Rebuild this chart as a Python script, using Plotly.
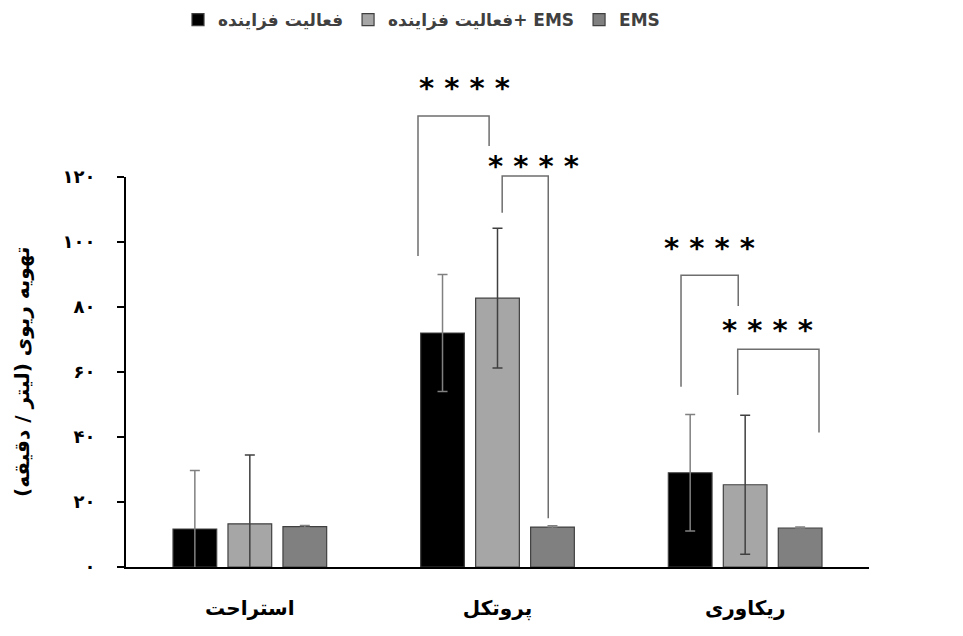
import plotly.graph_objects as go

# ---- data ----
categories = ["استراحت", "پروتکل", "ریکاوری"]
series_names = ["فعالیت فزاینده", "فعالیت فزاینده+ EMS", "EMS"]
vals_active = [11.7, 72.0, 29.0]
err_active = [18.0, 18.0, 17.9]
vals_active_ems = [13.3, 82.7, 25.3]
err_active_ems = [21.2, 21.5, 21.4]
vals_ems = [12.4, 12.3, 12.0]
err_ems = [0.4, 0.4, 0.3]
y_tickvals = [0, 20, 40, 60, 80, 100, 120]
y_ticktext = ["۰", "۲۰", "۴۰", "۶۰", "۸۰", "۱۰۰", "۱۲۰"]
y_title = "تهویه ریوی (لیتر / دقیقه)"
sig_label = "* * * *"

# significance brackets: (x_left, x_right, y_top, y_left_bottom, y_right_bottom) in data units
brackets = [
    (0.679, 0.966, 138.8, 95.7, 129.5),
    (1.019, 1.205, 120.3, 109.0, 15.0),
    (1.741, 1.972, 89.8, 55.5, 80.3),
    (1.970, 2.298, 67.0, 52.9, 41.4),
]
star_pos = [(0.865, 148.3), (1.147, 124.3), (1.858, 99.1), (2.092, 73.8)]

XMIN, XMAX = -0.5, 2.5
YMIN, YMAX = 0, 120

colors = ["#000000", "#a6a6a6", "#808080"]
err_colors = ["#808080", "#404040", "#808080"]
FONT = "DejaVu Sans"

fig = go.Figure()
for name, vals, errs, c, ec in zip(series_names,
                                   [vals_active, vals_active_ems, vals_ems],
                                   [err_active, err_active_ems, err_ems],
                                   colors, err_colors):
    fig.add_trace(go.Bar(
        x=list(range(len(categories))), y=vals, name=name,
        marker=dict(color=c, line=dict(color="#404040", width=1.2)),
        error_y=dict(type="data", array=errs, visible=True, color=ec,
                     thickness=1.5, width=5),
    ))


def xp(x):
    return (x - XMIN) / (XMAX - XMIN)


def yp(y):
    return (y - YMIN) / (YMAX - YMIN)


shapes = []
for xl, xr, yt, ylb, yrb in brackets:
    path = "M {:.4f},{:.4f} L {:.4f},{:.4f} L {:.4f},{:.4f} L {:.4f},{:.4f}".format(
        xp(xl), yp(ylb), xp(xl), yp(yt), xp(xr), yp(yt), xp(xr), yp(yrb))
    shapes.append(dict(type="path", xref="paper", yref="paper", path=path,
                       line=dict(color="#6e6e6e", width=1.5)))

annotations = []
for sx, sy in star_pos:
    annotations.append(dict(x=xp(sx), y=yp(sy), xref="paper", yref="paper",
                            text=sig_label, showarrow=False, yshift=-3,
                            xanchor="center", yanchor="middle",
                            font=dict(family=FONT, size=29, color="#000000", weight="bold")))
annotations.append(dict(x=(22 - 126) / 743, y=0.5, xref="paper", yref="paper",
                        text=y_title, textangle=-90, showarrow=False,
                        xanchor="center", yanchor="middle",
                        font=dict(family=FONT, size=20, color="#000000", weight="bold")))

fig.update_layout(
    width=963, height=636,
    margin=dict(l=126, r=94, t=177, b=69),
    plot_bgcolor="white", paper_bgcolor="white",
    barmode="group", bargap=0.334, bargroupgap=0.205,
    showlegend=True,
    legend=dict(orientation="h", xref="container", yref="container",
                x=178 / 963, y=1 - 2 / 636, xanchor="left", yanchor="top",
                font=dict(family=FONT, size=17, color="#404040", weight="bold"),
                itemwidth=30, tracegroupgap=0),
    shapes=shapes, annotations=annotations,
    font=dict(family=FONT),
)
fig.update_xaxes(range=[XMIN, XMAX], tickvals=list(range(len(categories))),
                 ticktext=categories, showline=True, linecolor="#000000", linewidth=2,
                 ticks="", showgrid=False, zeroline=False, ticklabelstandoff=22,
                 tickfont=dict(family=FONT, size=20, color="#000000", weight="bold"))
fig.update_yaxes(range=[YMIN, YMAX], tickvals=y_tickvals, ticktext=y_ticktext,
                 showline=True, linecolor="#000000", linewidth=2,
                 ticks="outside", ticklen=7, tickwidth=2, tickcolor="#000000",
                 showgrid=False, zeroline=False, ticklabelstandoff=18,
                 tickfont=dict(family=FONT, size=18, color="#000000", weight="bold"))

fig.write_html("out.html", config={"displayModeBar": False},
               post_script="document.body.style.margin='0';")
